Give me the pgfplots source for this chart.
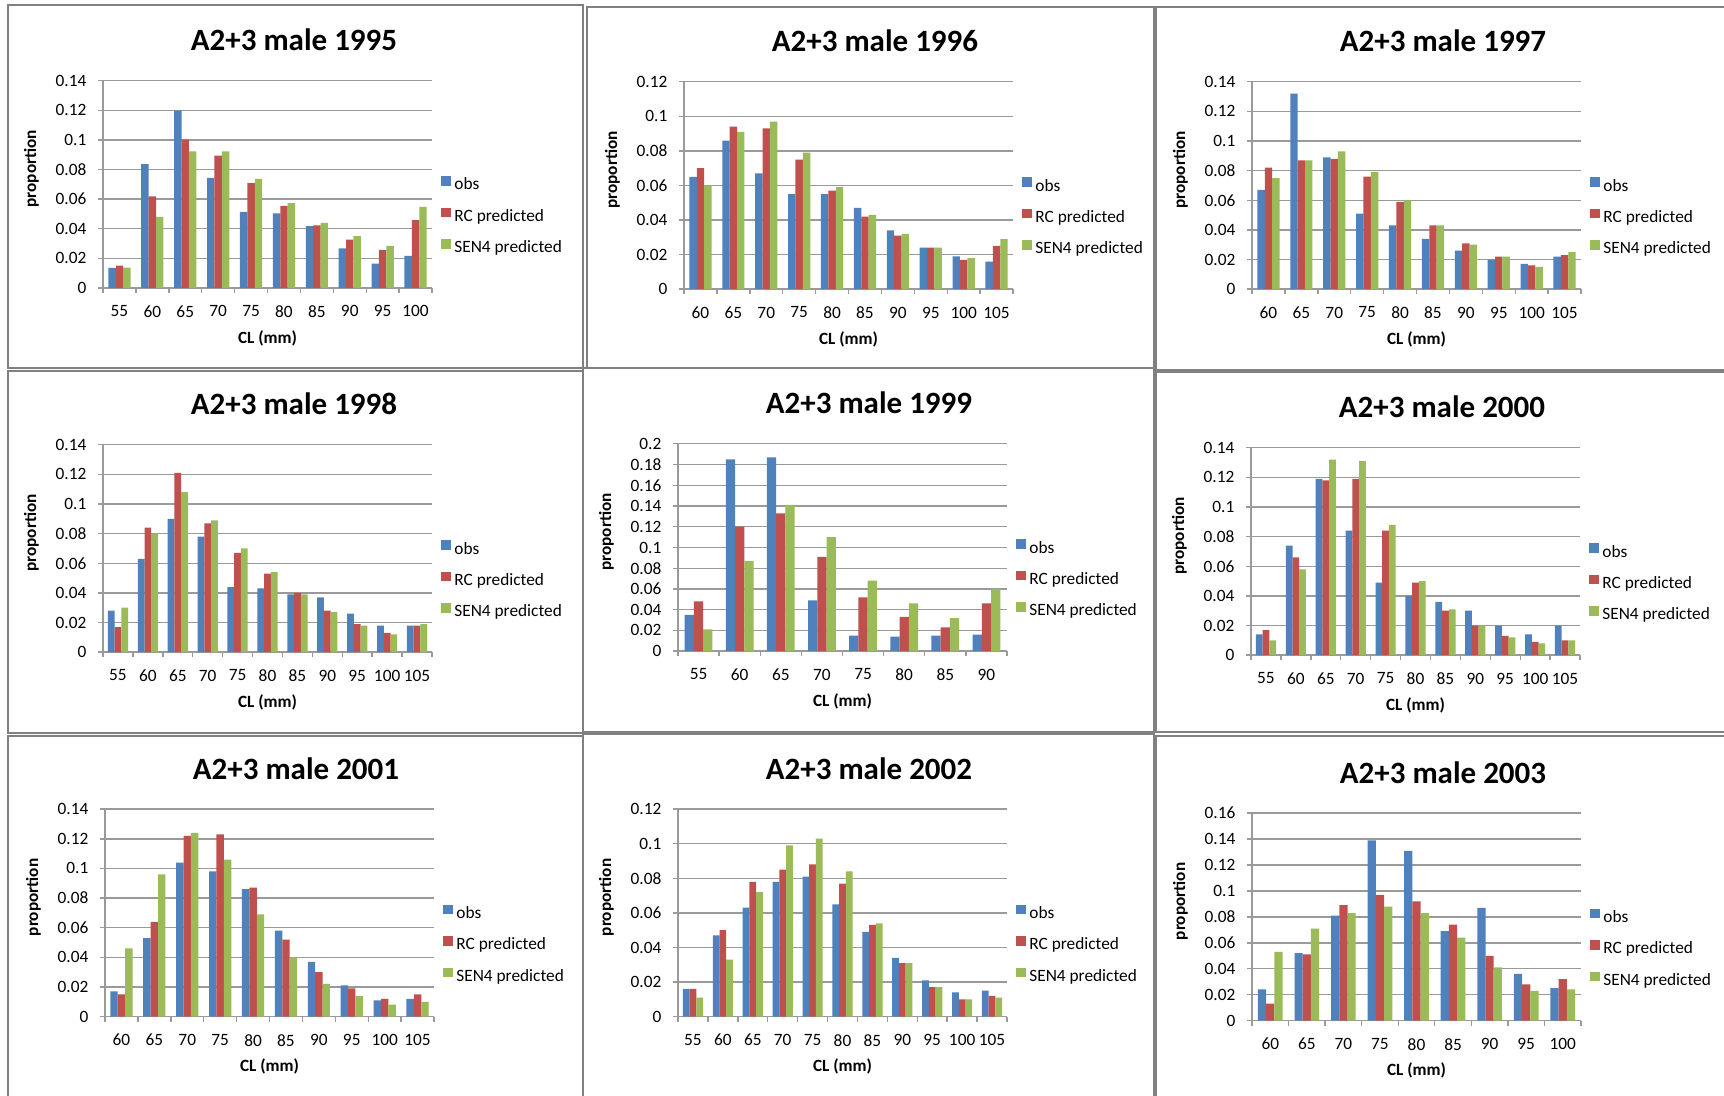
\documentclass[border=0pt]{standalone}
\usepackage{fontspec}
\setmainfont{Carlito}
\usepackage{pgfplots}
\pgfplotsset{compat=1.18}
\definecolor{cobs}{HTML}{4F81BD}
\definecolor{crc}{HTML}{C0504D}
\definecolor{csen}{HTML}{9BBB59}
\definecolor{axgray}{HTML}{9A9A9A}
\definecolor{frgray}{HTML}{808080}
\newcommand{\ticksize}{\fontsize{8.65pt}{10pt}\selectfont}
\newcommand{\labfont}{\fontsize{8.6pt}{10pt}\selectfont\bfseries}
\newcommand{\titfont}{\fontsize{15.5pt}{18pt}\selectfont\bfseries}
\pgfplotsset{
  sqlegend/.style={legend image code/.code={\fill[##1] (0pt,0pt) rectangle (5pt,4.8pt);}},
  panel/.style={
    scale only axis, width=164.5pt, height=103.7pt,
    ybar=0pt, bar width=0.225, sqlegend,
    ymin=0, enlargelimits=false,
    axis x line*=bottom, axis y line*=left,
    axis line style={draw=axgray, line width=0.7pt, -},
    ymajorgrids, major grid style={draw=axgray, line width=0.7pt},
    tick align=outside,
    major tick length=2.3pt, minor tick length=2.5pt,
    tick style={draw=axgray, line width=0.7pt},
    major x tick style={draw=none},
    /pgf/number format/.cd, fixed, precision=2, assume math mode=true, /pgfplots/.cd,
    tick label style={font=\ticksize, text=black},
    yticklabel style={xshift=-2.5pt},
    xticklabel style={yshift=-3pt},
    xlabel={CL (mm)}, ylabel={proportion},
    label style={font=\labfont},
    xlabel style={at={(axis description cs:0.5,-0.241)}, anchor=center},
    ylabel style={at={(axis description cs:-0.2173,0.5747)}, anchor=center},
    title style={at={(axis description cs:0.5805,1)}, anchor=base, yshift=9pt, font=\titfont},
    legend cell align=left,
    legend style={at={(axis description cs:1,0.345)}, anchor=west, xshift=4.7pt,
      draw=none, fill=none, inner sep=0pt, outer sep=0pt,
      row sep=6.9pt, column sep=1.5pt, font=\ticksize,
      nodes={inner sep=0pt, text height=6pt, text depth=2pt}},
  },
  c10a/.style={xmin=-0.5, xmax=9.5, xtick={0,...,9}, xticklabels={55,60,65,70,75,80,85,90,95,100}, minor xtick={-0.5,0.5,...,9.5}},
  c10b/.style={xmin=-0.5, xmax=9.5, xtick={0,...,9}, xticklabels={60,65,70,75,80,85,90,95,100,105}, minor xtick={-0.5,0.5,...,9.5}},
  c11/.style={xmin=-0.5, xmax=10.5, xtick={0,...,10}, xticklabels={55,60,65,70,75,80,85,90,95,100,105}, minor xtick={-0.5,0.5,...,10.5}},
  c8/.style={xmin=-0.5, xmax=7.5, xtick={0,...,7}, xticklabels={55,60,65,70,75,80,85,90}, minor xtick={-0.5,0.5,...,7.5}},
  c9/.style={xmin=-0.5, xmax=8.5, xtick={0,...,8}, xticklabels={60,65,70,75,80,85,90,95,100}, minor xtick={-0.5,0.5,...,8.5}},
  y14/.style={ymax=0.14, ytick={0,0.02,0.04,0.06,0.08,0.1,0.12,0.14}},
  y12/.style={ymax=0.12, ytick={0,0.02,0.04,0.06,0.08,0.1,0.12}},
  y16/.style={ymax=0.16, ytick={0,0.02,0.04,0.06,0.08,0.1,0.12,0.14,0.16}},
  y20/.style={ymax=0.2, ytick={0,0.02,0.04,0.06,0.08,0.1,0.12,0.14,0.16,0.18,0.2}},
  sobs/.style={fill=cobs, draw=none, bar shift=-0.225},
  src/.style={fill=crc, draw=none, bar shift=0},
  ssen/.style={fill=csen, draw=none, bar shift=0.225},
}
\begin{document}
\begin{tikzpicture}
\useasboundingbox (0pt,0pt) rectangle (862pt,548pt);
\fill[white] (0pt,0pt) rectangle (862pt,548pt);
% panel frames
\begin{scope}[draw=frgray, line width=1pt]
\draw (4pt,364pt) rectangle (291.5pt,545.5pt);
\draw (293.5pt,364pt) rectangle (577pt,544.5pt);
\draw (578pt,363pt) rectangle (863pt,544.5pt);
\draw (4pt,181.5pt) rectangle (291.5pt,362.5pt);
\draw (291.5pt,182pt) rectangle (577pt,364pt);
\draw (578pt,182pt) rectangle (863pt,362pt);
\draw (4pt,-1pt) rectangle (291.5pt,180pt);
\draw (291.5pt,-1pt) rectangle (577pt,181pt);
\draw (578pt,-1pt) rectangle (863pt,180pt);
\end{scope}

% 1995
\begin{axis}[panel, c10a, y14, at={(51.5pt,404pt)}, anchor=south west, title={A2+3 male 1995}]
\addplot[sobs] coordinates {(0,0.0135)(1,0.0836)(2,0.1197)(3,0.0744)(4,0.0514)(5,0.0503)(6,0.0417)(7,0.0268)(8,0.0165)(9,0.0216)};
\addplot[src] coordinates {(0,0.0151)(1,0.0618)(2,0.1001)(3,0.0893)(4,0.0708)(5,0.0555)(6,0.0422)(7,0.0327)(8,0.0257)(9,0.0458)};
\addplot[ssen] coordinates {(0,0.0138)(1,0.048)(2,0.0922)(3,0.0922)(4,0.0737)(5,0.0573)(6,0.044)(7,0.035)(8,0.0284)(9,0.0548)};
\legend{obs, RC predicted, SEN4 predicted}
\end{axis}

% 1996
\begin{axis}[panel, c10b, y12, at={(342pt,403.4pt)}, anchor=south west, title={A2+3 male 1996}]
\addplot[sobs] coordinates {(0,0.065)(1,0.086)(2,0.067)(3,0.055)(4,0.055)(5,0.047)(6,0.034)(7,0.024)(8,0.019)(9,0.016)};
\addplot[src] coordinates {(0,0.070)(1,0.094)(2,0.093)(3,0.075)(4,0.057)(5,0.042)(6,0.031)(7,0.024)(8,0.017)(9,0.025)};
\addplot[ssen] coordinates {(0,0.060)(1,0.091)(2,0.097)(3,0.079)(4,0.059)(5,0.043)(6,0.032)(7,0.024)(8,0.018)(9,0.029)};
\legend{obs, RC predicted, SEN4 predicted}
\end{axis}

% 1997
\begin{axis}[panel, c10b, y14, at={(626pt,403.4pt)}, anchor=south west, title={A2+3 male 1997}]
\addplot[sobs] coordinates {(0,0.067)(1,0.132)(2,0.089)(3,0.051)(4,0.043)(5,0.034)(6,0.026)(7,0.020)(8,0.017)(9,0.022)};
\addplot[src] coordinates {(0,0.082)(1,0.087)(2,0.088)(3,0.076)(4,0.059)(5,0.043)(6,0.031)(7,0.022)(8,0.016)(9,0.023)};
\addplot[ssen] coordinates {(0,0.075)(1,0.087)(2,0.093)(3,0.079)(4,0.060)(5,0.043)(6,0.030)(7,0.022)(8,0.015)(9,0.025)};
\legend{obs, RC predicted, SEN4 predicted}
\end{axis}

% 1998
\begin{axis}[panel, c11, y14, at={(51.5pt,221.9pt)}, anchor=south west, title={A2+3 male 1998}]
\addplot[sobs] coordinates {(0,0.028)(1,0.063)(2,0.090)(3,0.078)(4,0.044)(5,0.043)(6,0.039)(7,0.037)(8,0.026)(9,0.018)(10,0.018)};
\addplot[src] coordinates {(0,0.017)(1,0.084)(2,0.121)(3,0.087)(4,0.067)(5,0.053)(6,0.040)(7,0.028)(8,0.019)(9,0.013)(10,0.018)};
\addplot[ssen] coordinates {(0,0.030)(1,0.080)(2,0.108)(3,0.089)(4,0.070)(5,0.054)(6,0.039)(7,0.027)(8,0.018)(9,0.012)(10,0.019)};
\legend{obs, RC predicted, SEN4 predicted}
\end{axis}

% 1999
\begin{axis}[panel, c8, y20, at={(339pt,222.4pt)}, anchor=south west, title={A2+3 male 1999}]
\addplot[sobs] coordinates {(0,0.035)(1,0.185)(2,0.187)(3,0.049)(4,0.015)(5,0.014)(6,0.015)(7,0.016)};
\addplot[src] coordinates {(0,0.048)(1,0.120)(2,0.133)(3,0.091)(4,0.052)(5,0.033)(6,0.023)(7,0.046)};
\addplot[ssen] coordinates {(0,0.021)(1,0.087)(2,0.141)(3,0.110)(4,0.068)(5,0.046)(6,0.032)(7,0.060)};
\legend{obs, RC predicted, SEN4 predicted}
\end{axis}

% 2000
\begin{axis}[panel, c11, y14, at={(625.5pt,220.4pt)}, anchor=south west, title={A2+3 male 2000}]
\addplot[sobs] coordinates {(0,0.014)(1,0.074)(2,0.119)(3,0.084)(4,0.049)(5,0.040)(6,0.036)(7,0.030)(8,0.020)(9,0.014)(10,0.020)};
\addplot[src] coordinates {(0,0.017)(1,0.066)(2,0.118)(3,0.119)(4,0.084)(5,0.049)(6,0.030)(7,0.020)(8,0.013)(9,0.009)(10,0.010)};
\addplot[ssen] coordinates {(0,0.010)(1,0.058)(2,0.132)(3,0.131)(4,0.088)(5,0.050)(6,0.031)(7,0.020)(8,0.012)(9,0.008)(10,0.010)};
\legend{obs, RC predicted, SEN4 predicted}
\end{axis}

% 2001
\begin{axis}[panel, c10b, y14, at={(52.5pt,39.7pt)}, anchor=south west, title={A2+3 male 2001}]
\addplot[sobs] coordinates {(0,0.017)(1,0.053)(2,0.104)(3,0.098)(4,0.086)(5,0.058)(6,0.037)(7,0.021)(8,0.011)(9,0.012)};
\addplot[src] coordinates {(0,0.015)(1,0.064)(2,0.122)(3,0.123)(4,0.087)(5,0.052)(6,0.030)(7,0.019)(8,0.012)(9,0.015)};
\addplot[ssen] coordinates {(0,0.046)(1,0.096)(2,0.124)(3,0.106)(4,0.069)(5,0.040)(6,0.022)(7,0.014)(8,0.008)(9,0.010)};
\legend{obs, RC predicted, SEN4 predicted}
\end{axis}

% 2002
\begin{axis}[panel, c11, y12, at={(339pt,39.7pt)}, anchor=south west, title={A2+3 male 2002}]
\addplot[sobs] coordinates {(0,0.016)(1,0.047)(2,0.063)(3,0.078)(4,0.081)(5,0.065)(6,0.049)(7,0.034)(8,0.021)(9,0.014)(10,0.015)};
\addplot[src] coordinates {(0,0.016)(1,0.050)(2,0.078)(3,0.085)(4,0.088)(5,0.077)(6,0.053)(7,0.031)(8,0.017)(9,0.010)(10,0.012)};
\addplot[ssen] coordinates {(0,0.011)(1,0.033)(2,0.072)(3,0.099)(4,0.103)(5,0.084)(6,0.054)(7,0.031)(8,0.017)(9,0.010)(10,0.011)};
\legend{obs, RC predicted, SEN4 predicted}
\end{axis}

% 2003
\begin{axis}[panel, c9, y16, at={(626pt,37.7pt)}, anchor=south west, title={A2+3 male 2003}]
\addplot[sobs] coordinates {(0,0.024)(1,0.052)(2,0.081)(3,0.139)(4,0.131)(5,0.069)(6,0.087)(7,0.036)(8,0.025)};
\addplot[src] coordinates {(0,0.013)(1,0.051)(2,0.089)(3,0.097)(4,0.092)(5,0.074)(6,0.050)(7,0.028)(8,0.032)};
\addplot[ssen] coordinates {(0,0.053)(1,0.071)(2,0.083)(3,0.088)(4,0.083)(5,0.064)(6,0.041)(7,0.023)(8,0.024)};
\legend{obs, RC predicted, SEN4 predicted}
\end{axis}
\end{tikzpicture}
\end{document}
